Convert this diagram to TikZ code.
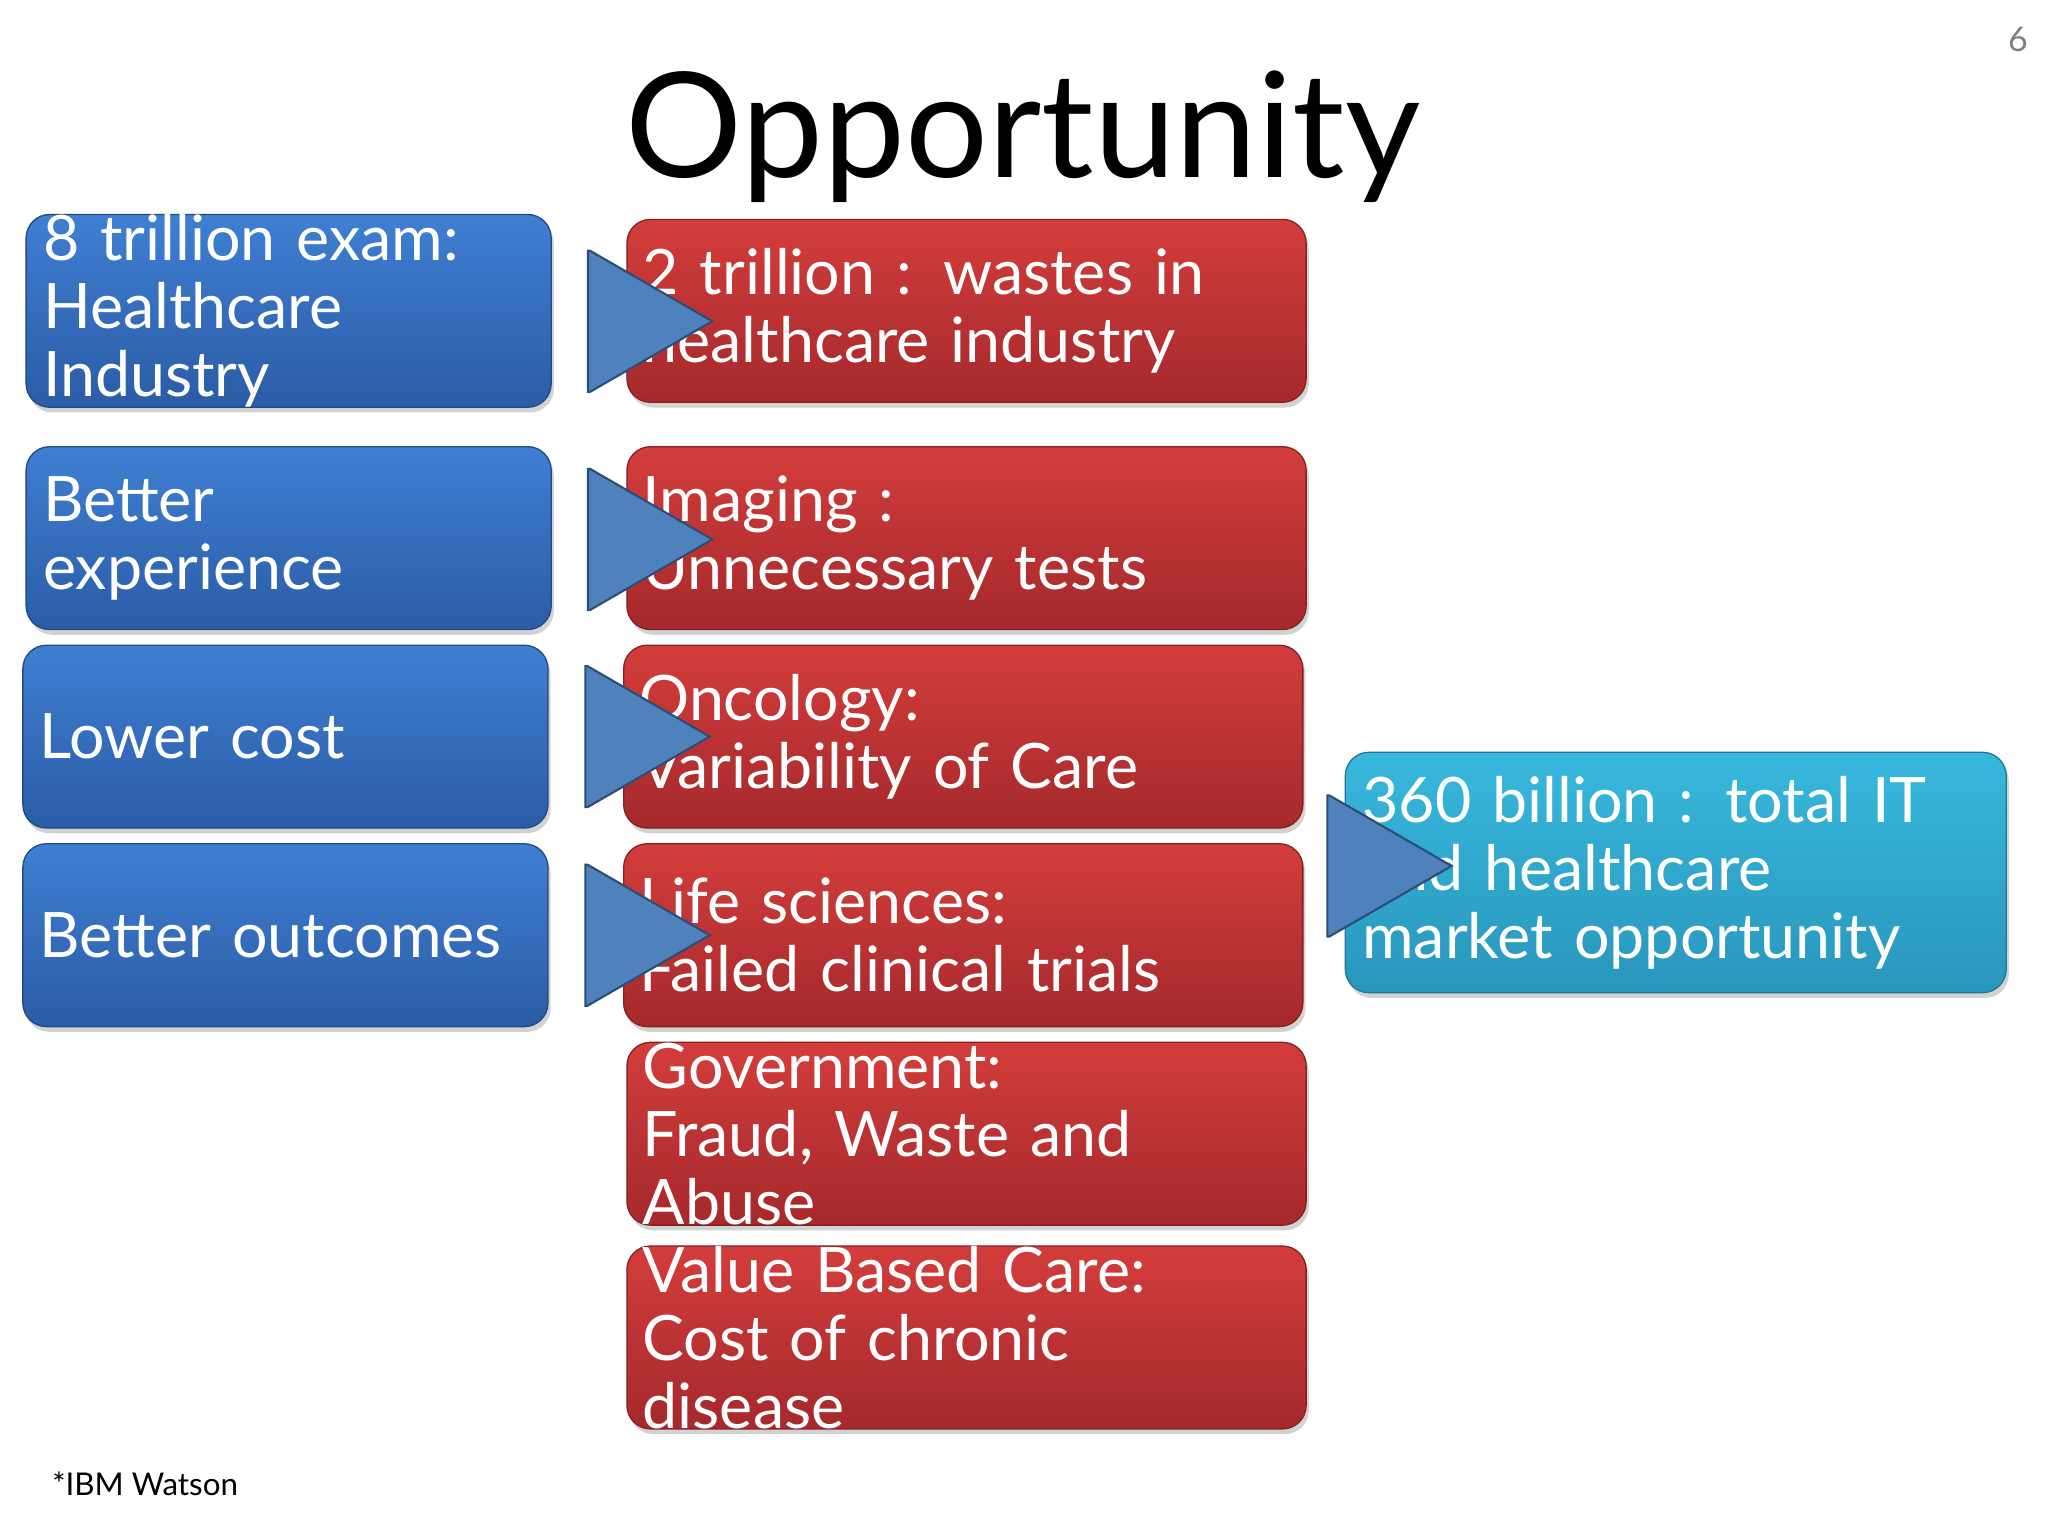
\documentclass[tikz,border=0pt]{standalone}
\usepackage{fontspec}
\setmainfont{Lato}
\usetikzlibrary{shapes.arrows,shadows}
\definecolor{bluetop}{HTML}{3F7FD2}
\definecolor{bluebot}{HTML}{2B5CA6}
\definecolor{redtop}{HTML}{D33D3B}
\definecolor{redbot}{HTML}{A5292C}
\definecolor{tealtop}{HTML}{38B8DD}
\definecolor{tealbot}{HTML}{2996BC}
\definecolor{arrowfill}{HTML}{4F81BD}
\definecolor{arrowline}{HTML}{2C4D75}
\tikzset{
 box/.style={rounded corners=9pt, text=white, align=left, inner sep=0pt,
   font=\fontsize{24}{26}\selectfont, drop shadow={opacity=0.35,shadow xshift=1pt,shadow yshift=-2pt}},
 bluebox/.style={box, top color=bluetop, bottom color=bluebot, draw=bluebot!80!black, line width=0.5pt},
 redbox/.style={box, top color=redtop, bottom color=redbot, draw=redbot!80!black, line width=0.5pt},
 tealbox/.style={box, top color=tealtop, bottom color=tealbot, draw=tealbot!80!black, line width=0.5pt},
 arr/.style={single arrow, fill=arrowfill, draw=arrowline, line width=0.8pt, minimum height=27pt,
   minimum width=54pt, single arrow head extend=0pt, inner sep=0pt, single arrow tip angle=60},
}
\begin{document}
\begin{tikzpicture}[x=0.5pt,y=-0.5pt]
\useasboundingbox[fill=white] (0,0) rectangle (1568,1176);
\node[font=\fontsize{56}{60}\selectfont] (title) at (783,105) {Opportunity};
\node[text=gray, font=\fontsize{13}{14}\selectfont] (pg) at (1545,30) {6};
\node[anchor=west, font=\fontsize{12}{14}\selectfont] (src) at (33,1136) {*IBM Watson};
% blue
\node[bluebox, minimum width=201pt, minimum height=70pt, text width=188pt] (b1) at (221,238) {8 trillion exam:\\Healthcare\\Industry};
\node[bluebox, minimum width=201pt, minimum height=70pt, text width=188pt] (b2) at (221,412) {Better\\experience};
\node[bluebox, minimum width=201pt, minimum height=70pt, text width=188pt] (b3) at (218.5,564) {Lower cost};
\node[bluebox, minimum width=201pt, minimum height=70pt, text width=188pt] (b4) at (218.5,716) {Better outcomes};
% red
\node[redbox, minimum width=260pt, minimum height=70pt, text width=248pt] (r1) at (740,238) {2 trillion : wastes in\\healthcare industry};
\node[redbox, minimum width=260pt, minimum height=70pt, text width=248pt] (r2) at (740,412) {Imaging :\\Unnecessary tests};
\node[redbox, minimum width=260pt, minimum height=70pt, text width=248pt] (r3) at (737.5,564) {Oncology:\\Variability of Care};
\node[redbox, minimum width=260pt, minimum height=70pt, text width=248pt] (r4) at (737.5,716) {Life sciences:\\Failed clinical trials};
\node[redbox, minimum width=260pt, minimum height=70pt, text width=248pt] (r5) at (740,868) {Government:\\Fraud, Waste and\\Abuse};
\node[redbox, minimum width=260pt, minimum height=70pt, text width=248pt] (r6) at (740,1024) {Value Based Care:\\Cost of chronic\\disease};
% teal
\node[tealbox, minimum width=253pt, minimum height=92pt, text width=240pt] (t) at (1283,668) {360 billion : total IT\\and healthcare\\market opportunity};
% arrows
\node[arr] (a1) at (451,246) {};
\node[arr] (a2) at (451,413) {};
\node[arr] (a3) at (449,564) {};
\node[arr] (a4) at (449,716) {};
\node[arr] (a5) at (1017,663) {};
\end{tikzpicture}
\end{document}
